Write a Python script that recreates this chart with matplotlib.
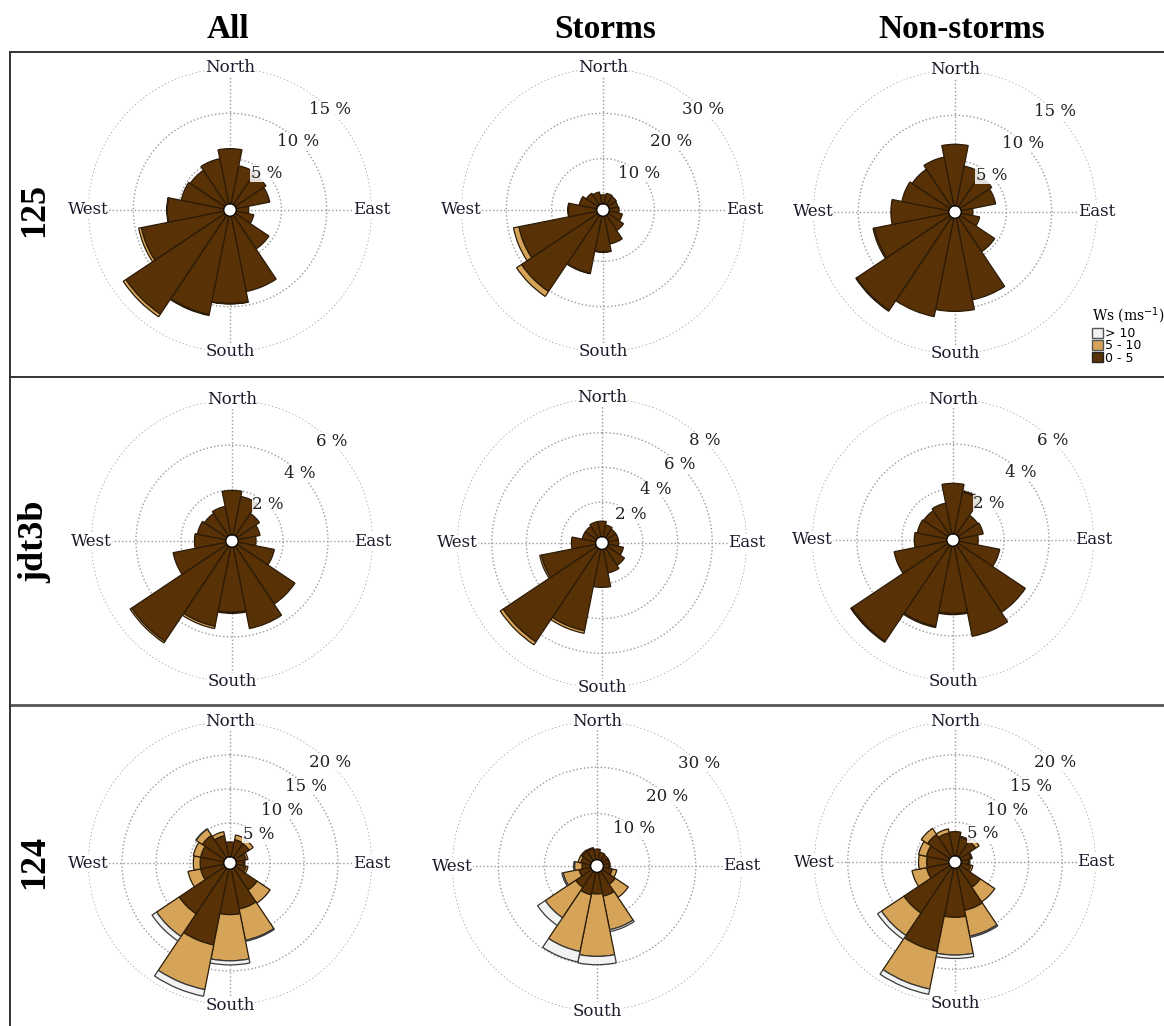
import numpy as np
import matplotlib.pyplot as plt
from matplotlib.patches import Patch
from matplotlib.lines import Line2D

W, H = 1164, 1026

# 16 compass sectors, clockwise from north
dirs = ['N', 'NNE', 'NE', 'ENE', 'E', 'ESE', 'SE', 'SSE',
        'S', 'SSW', 'SW', 'WSW', 'W', 'WNW', 'NW', 'NNW']

col_titles = ['All', 'Storms', 'Non-storms']
row_titles = ['125', 'jdt3b', '124']
speed_bins = ['0 - 5', '5 - 10', '> 10']

# frequency (%) per sector and wind speed class
s125_all_lo = [6.1, 4.3, 4.1, 3.8, 1.4, 2.0, 4.5, 8.5, 9.65, 11.1, 13.15, 9.3, 6.25, 4.8, 4.6, 5.1]
s125_all_mid = [0, 0, 0, 0, 0, 0, 0, 0, 0.05, 0.1, 0.35, 0.3, 0.05, 0, 0, 0]
s125_all_hi = [0] * 16
s125_st_lo = [2.0, 2.4, 2.2, 2.0, 2.2, 3.0, 4.1, 6.3, 7.9, 12.9, 20.3, 17.6, 6.3, 4.0, 3.1, 2.7]
s125_st_mid = [0, 0, 0, 0, 0, 0, 0, 0, 0.05, 0.1, 1.3, 1.2, 0.1, 0, 0, 0]
s125_st_hi = [0] * 16
s125_ns_lo = [6.8, 4.5, 4.2, 3.9, 1.3, 2.1, 4.6, 9.2, 10.3, 11.1, 12.4, 8.4, 6.4, 5.3, 5.0, 5.5]
s125_ns_mid = [0, 0, 0, 0, 0, 0, 0, 0, 0, 0, 0.1, 0.15, 0, 0, 0, 0]
s125_ns_hi = [0] * 16

jdt_all_lo = [1.98, 1.75, 1.2, 1.0, 0.8, 1.65, 3.1, 3.7, 2.9, 3.6, 5.1, 2.4, 1.4, 1.3, 1.2, 1.3]
jdt_all_mid = [0, 0, 0, 0, 0, 0, 0, 0, 0.05, 0.1, 0.08, 0, 0, 0, 0, 0]
jdt_all_hi = [0] * 16
jdt_st_lo = [0.9, 0.7, 0.6, 0.6, 0.6, 0.9, 1.2, 1.4, 2.2, 4.8, 6.5, 3.2, 1.4, 0.8, 0.8, 0.9]
jdt_st_mid = [0, 0, 0, 0, 0, 0, 0, 0, 0, 0.15, 0.2, 0.1, 0, 0, 0, 0]
jdt_st_hi = [0] * 16
jdt_ns_lo = [2.25, 1.9, 1.05, 1.1, 0.85, 1.85, 3.6, 4.1, 3.0, 3.65, 5.15, 2.4, 1.45, 1.35, 1.3, 1.4]
jdt_ns_mid = [0, 0.05, 0, 0, 0, 0, 0, 0, 0.05, 0.05, 0.05, 0, 0, 0, 0, 0]
jdt_ns_hi = [0] * 16

s124_all_lo = [2.2, 2.6, 2.5, 1.5, 1.1, 1.5, 3.9, 6.0, 6.7, 11.4, 8.1, 3.5, 3.5, 3.5, 4.0, 3.2]
s124_all_mid = [0, 0.7, 0.7, 0.3, 0.2, 0.3, 2.3, 4.7, 6.8, 6.7, 4.0, 1.9, 1.0, 1.1, 1.1, 0.6]
s124_all_hi = [0, 0, 0, 0, 0, 0, 0, 0.15, 0.6, 1.0, 0.8, 0, 0, 0, 0.05, 0]
s124_st_lo = [2.3, 1.7, 1.5, 1.3, 1.3, 2.0, 3.4, 5.3, 4.7, 5.0, 4.2, 2.6, 1.9, 2.2, 2.5, 2.5]
s124_st_mid = [0, 0, 0, 0.2, 0.2, 1.0, 3.4, 7.4, 13.5, 12.5, 7.9, 3.5, 1.6, 0.6, 0.3, 0.2]
s124_st_hi = [0, 0, 0, 0, 0, 0, 0, 0.4, 1.8, 2.3, 2.0, 0.3, 0.2, 0, 0, 0]
s124_ns_lo = [3.6, 2.8, 2.8, 1.5, 1.1, 1.5, 3.6, 6.4, 7.3, 12.6, 8.2, 3.4, 3.3, 3.4, 4.0, 3.5]
s124_ns_mid = [0, 0.2, 0.6, 0.2, 0.2, 0.3, 2.6, 3.9, 5.6, 5.7, 4.0, 2.2, 1.2, 1.2, 1.1, 0.6]
s124_ns_hi = [0, 0, 0, 0, 0, 0, 0, 0.2, 0.5, 0.8, 0.7, 0, 0, 0, 0, 0]

# ring levels (%) for each panel
ticks_125 = [[5, 10, 15], [10, 20, 30], [5, 10, 15]]
ticks_jdt = [[2, 4, 6], [2, 4, 6, 8], [2, 4, 6]]
ticks_124 = [[5, 10, 15, 20], [10, 20, 30], [5, 10, 15, 20]]

panels = [
    [(s125_all_lo, s125_all_mid, s125_all_hi), (s125_st_lo, s125_st_mid, s125_st_hi), (s125_ns_lo, s125_ns_mid, s125_ns_hi)],
    [(jdt_all_lo, jdt_all_mid, jdt_all_hi), (jdt_st_lo, jdt_st_mid, jdt_st_hi), (jdt_ns_lo, jdt_ns_mid, jdt_ns_hi)],
    [(s124_all_lo, s124_all_mid, s124_all_hi), (s124_st_lo, s124_st_mid, s124_st_hi), (s124_ns_lo, s124_ns_mid, s124_ns_hi)],
]
ticks = [ticks_125, ticks_jdt, ticks_124]

C_LO, C_MID, C_HI = '#583106', '#d5a459', '#f2f2f2'
EDGE = '#2b1b07'
SERIF = 'DejaVu Serif'

# centre (px) and outer radius (px) of every rose
centres = [[(230, 210), (603, 210), (955, 212)],
           [(232, 541), (602, 543), (953, 540)],
           [(230, 863), (597, 866), (955, 862)]]
radii = [[142, 142, 142], [141, 145, 141], [142, 145, 141]]

theta = np.deg2rad(np.arange(16) * 22.5)
width = 2 * np.pi / 16


def rose(ax, layers, rt):
    rmax = rt[-1]
    ax.set_theta_zero_location('N')
    ax.set_theta_direction(-1)
    ax.set_ylim(0, rmax)
    ax.set_rorigin(-0.045 * rmax)
    ax.set_axisbelow(True)
    base = np.zeros(16)
    for vals, fc, ec in zip(layers, [C_LO, C_MID, C_HI], [EDGE, EDGE, '#3a3a3a']):
        vals = np.asarray(vals, dtype=float)
        m = vals > 0
        ax.bar(theta[m], vals[m], width=width, bottom=base[m], color=fc,
               edgecolor=ec, linewidth=0.9, zorder=2)
        base = base + vals
    ax.set_rticks(rt)
    ax.set_yticklabels([])
    ax.set_thetagrids([0, 90, 180, 270], labels=['', '', '', ''])
    ax.grid(True, color='#9a9a9a', linestyle=':', linewidth=1.0)
    for sp in ax.spines.values():
        sp.set_visible(False)
    ax.set_facecolor('none')
    for t in rt:
        ax.text(np.deg2rad(45), t, f'{t} %', ha='center', va='center',
                fontsize=12, family=SERIF, color='#222222', zorder=5,
                bbox=dict(fc='white', ec='none', pad=0.2, alpha=0.85))
    for ang, name in zip([0, 90, 180, 270], ['North', 'East', 'South', 'West']):
        ax.text(np.deg2rad(ang), rmax, name, ha='center', va='center',
                fontsize=12, family=SERIF, color='#1a1a2a', zorder=5,
                bbox=dict(fc='white', ec='none', pad=0.1))


fig = plt.figure(figsize=(W / 100, H / 100), dpi=100)

for i in range(3):
    for j in range(3):
        cx, cy = centres[i][j]
        R = radii[i][j]
        ax = fig.add_axes([(cx - R) / W, 1 - (cy + R) / H, 2 * R / W, 2 * R / H],
                          projection='polar')
        rose(ax, panels[i][j], ticks[i][j])

# column headings and station labels
for x, t in zip([228, 605, 962], col_titles):
    fig.text(x / W, 1 - 29 / H, t, ha='center', va='center', fontsize=24,
             family='Liberation Serif', weight='bold')
for y, t in zip([210, 542, 862], row_titles):
    fig.text(35 / W, 1 - y / H, t, ha='center', va='center', fontsize=26,
             family='Liberation Serif', weight='bold', rotation=90)

# row frames
def hline(y, lw=1.4, c='#333333'):
    fig.add_artist(Line2D([10 / W, 1.0], [1 - y / H] * 2, transform=fig.transFigure,
                          color=c, linewidth=lw))

hline(52)
hline(377)
hline(705, lw=2.0, c='#555555')
fig.add_artist(Line2D([10 / W] * 2, [1 - 52 / H, 0], transform=fig.transFigure,
                      color='#333333', linewidth=1.4))

handles = [Patch(fc=C_HI, ec='#555555', label=speed_bins[2]),
           Patch(fc=C_MID, ec='#555555', label=speed_bins[1]),
           Patch(fc=C_LO, ec='#222222', label=speed_bins[0])]
leg = fig.legend(handles=handles, title='Ws (ms$^{-1}$)', loc='upper left',
                 bbox_to_anchor=(1086 / W, 1 - 299 / H), frameon=False,
                 fontsize=9, title_fontsize=10, handlelength=0.85, handleheight=0.85,
                 handletextpad=0.2, labelspacing=-0.05, borderpad=0, alignment='left')
leg.get_title().set_family(SERIF)
leg._legend_box.sep = 1

fig.savefig('out.png', dpi=100, facecolor='white')
